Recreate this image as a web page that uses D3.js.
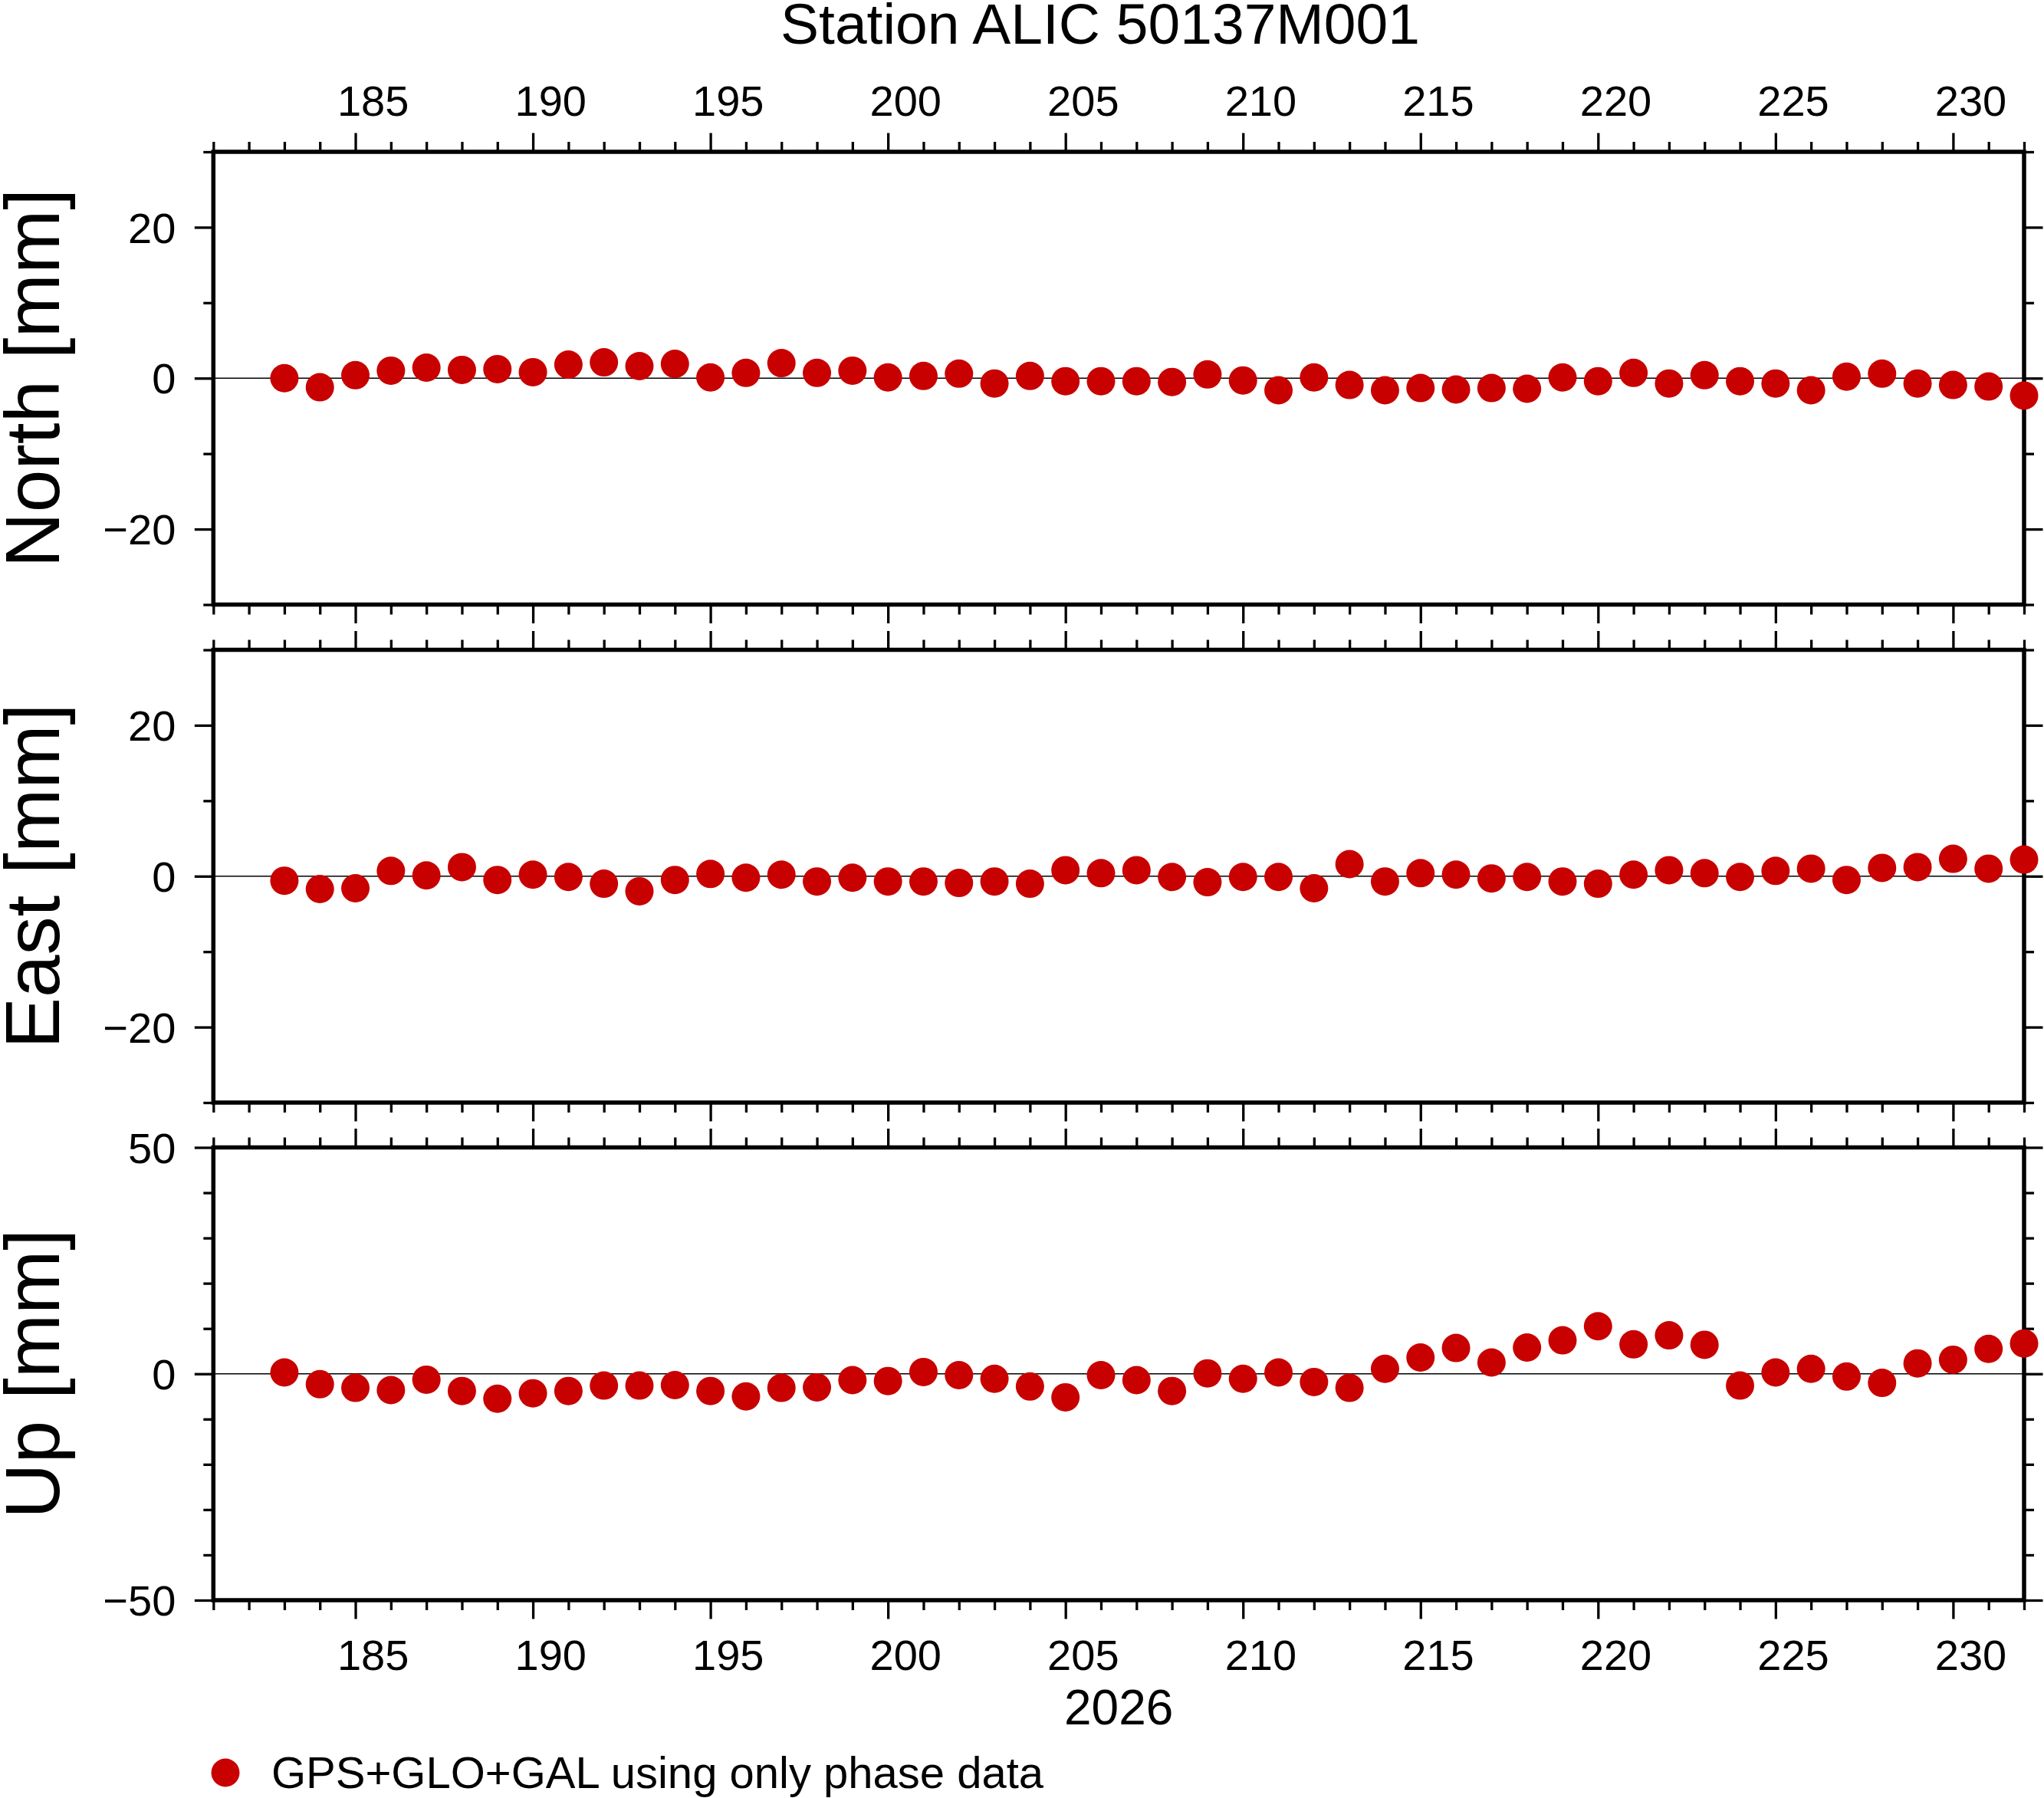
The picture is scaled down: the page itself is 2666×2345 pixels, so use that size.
<!DOCTYPE html>
<html lang="en">
<head>
  <meta charset="UTF-8">
  <title>Station ALIC 50137M001</title>
  <script src="https://d3js.org/d3.v7.min.js"></script>
  <style>
    body {
      margin: 0;
      background: #fff;
    }
    svg text {
      font-family: "Liberation Sans", Arial, Helvetica, sans-serif;
      fill: #000;
    }
  </style>
</head>
<body>
  <svg id="chart"></svg>

  <script>
    // Day of year (2026) for each daily solution
    const days = [183, 184, 185, 186, 187, 188, 189, 190, 191, 192,
                  193, 194, 195, 196, 197, 198, 199, 200, 201, 202,
                  203, 204, 205, 206, 207, 208, 209, 210, 211, 212,
                  213, 214, 215, 216, 217, 218, 219, 220, 221, 222,
                  223, 224, 225, 226, 227, 228, 229, 230, 231, 232];

    // Residuals in mm
    const north = [0.0, -1.2, 0.4, 1.0, 1.4, 1.1, 1.2, 0.8, 1.8, 2.1,
                   1.6, 1.9, 0.1, 0.7, 2.0, 0.7, 1.0, 0.1, 0.3, 0.6,
                   -0.7, 0.3, -0.4, -0.4, -0.4, -0.5, 0.5, -0.3, -1.6, 0.1,
                   -0.9, -1.6, -1.3, -1.5, -1.3, -1.4, 0.1, -0.4, 0.7, -0.7,
                   0.4, -0.4, -0.7, -1.6, 0.2, 0.6, -0.7, -0.9, -1.1, -2.3];

    const east = [-0.6, -1.7, -1.6, 0.7, 0.1, 1.2, -0.5, 0.2, -0.1, -1.0,
                  -2.0, -0.5, 0.3, -0.2, 0.2, -0.7, -0.2, -0.7, -0.7, -0.9,
                  -0.7, -1.0, 0.8, 0.4, 0.8, -0.1, -0.8, -0.1, -0.1, -1.6,
                  1.6, -0.7, 0.4, 0.2, -0.3, -0.1, -0.7, -1.0, 0.2, 0.8,
                  0.4, -0.1, 0.7, 1.0, -0.5, 1.1, 1.2, 2.3, 1.0, 2.2];

    const up = [0.3, -2.3, -3.1, -3.6, -1.3, -3.8, -5.5, -4.3, -3.8, -2.6,
                -2.6, -2.5, -3.8, -5.0, -3.1, -3.0, -1.4, -1.6, 0.4, -0.3,
                -1.1, -2.8, -5.2, -0.3, -1.4, -3.8, 0.1, -1.1, 0.3, -1.8,
                -3.1, 1.1, 3.6, 5.7, 2.5, 5.8, 7.4, 10.5, 6.5, 8.5,
                6.4, -2.6, 0.3, 1.1, -0.6, -2.0, 2.3, 3.1, 5.5, 6.7];

    // Axis ticks and labels
    const xLabelDays = [185, 190, 195, 200, 205, 210, 215, 220, 225, 230];
    const nePrimary = [-20, 0, 20];
    const neMinor = [-30, -10, 10, 30];
    const upPrimary = [-50, 0, 50];
    const upMinor = [-40, -30, -20, -10, 10, 20, 30, 40];

    const titleText = "Station ALIC 50137M001";
    const yearText = "2026";
    const legendText = "GPS+GLO+GAL using only phase data";

    const panels = [
      { label: "North [mm]", values: north, domain: [-30, 30], primary: nePrimary, minor: neMinor, top: 198 },
      { label: "East [mm]", values: east, domain: [-30, 30], primary: nePrimary, minor: neMinor, top: 847.5 },
      { label: "Up [mm]", values: up, domain: [-50, 50], primary: upPrimary, minor: upMinor, top: 1496.5 }
    ];

    const W = 2666, H = 2345;
    const panelH = 590.5;
    const red = "#c80000";
    const dotR = 18.5;
    const bigTick = 24.5, smallTick = 13;

    const svg = d3.select("#chart")
      .attr("width", W)
      .attr("height", H);

    svg.append("rect")
      .attr("width", W)
      .attr("height", H)
      .attr("fill", "#fff");

    const x = d3.scaleLinear()
      .domain([181, 232])
      .range([278.3, 2640]);

    const allDays = d3.range(181, 233);
    const [x0, x1] = x.range();

    // draw axis ticks only, no domain line, no text
    function tickAxis(g, axis) {
      g.call(axis);
      g.select(".domain").remove();
      g.selectAll("text").remove();
      g.selectAll(".tick line")
        .attr("stroke", "#000")
        .attr("stroke-width", 3.3);
    }

    const fmt = d => d < 0 ? "\u2212" + Math.abs(d) : String(d);

    panels.forEach((p, i) => {
      const y = d3.scaleLinear()
        .domain(p.domain)
        .range([p.top + panelH, p.top]);

      const g = svg.append("g").attr("class", "panel");

      // x ticks top and bottom (minor every day, major every 5)
      const majors = allDays.filter(d => d % 5 === 0);
      const minors = allDays.filter(d => d % 5 !== 0);
      [[p.top, d3.axisTop], [p.top + panelH, d3.axisBottom]].forEach(([yy, ax]) => {
        g.append("g").attr("transform", `translate(0,${yy})`)
          .call(tickAxis, ax(x).tickValues(minors).tickSize(smallTick));
        g.append("g").attr("transform", `translate(0,${yy})`)
          .call(tickAxis, ax(x).tickValues(majors).tickSize(bigTick));
      });

      // y ticks left and right
      [[x0, d3.axisLeft], [x1, d3.axisRight]].forEach(([xx, ax]) => {
        g.append("g").attr("transform", `translate(${xx},0)`)
          .call(tickAxis, ax(y).tickValues(p.minor).tickSize(smallTick));
        g.append("g").attr("transform", `translate(${xx},0)`)
          .call(tickAxis, ax(y).tickValues(p.primary).tickSize(bigTick));
      });

      // y tick labels
      g.selectAll(".ylab")
        .data(p.primary)
        .join("text")
        .attr("class", "ylab")
        .attr("x", x0 - 49)
        .attr("y", d => y(d))
        .attr("dy", "0.36em")
        .attr("text-anchor", "end")
        .attr("font-size", 56)
        .text(fmt);

      // zero line
      g.append("line")
        .attr("x1", x0).attr("x2", x1)
        .attr("y1", y(0)).attr("y2", y(0))
        .attr("stroke", "#000")
        .attr("stroke-width", 1.3);

      // frame
      g.append("rect")
        .attr("x", x0)
        .attr("y", p.top)
        .attr("width", x1 - x0)
        .attr("height", panelH)
        .attr("fill", "none")
        .attr("stroke", "#000")
        .attr("stroke-width", 5.5);

      // axis title
      g.append("text")
        .attr("transform", `translate(77,${p.top + panelH / 2}) rotate(-90)`)
        .attr("text-anchor", "middle")
        .attr("font-size", 100)
        .text(p.label);

      // data points
      g.selectAll("circle")
        .data(days.map((d, k) => ({ day: d, v: p.values[k] })))
        .join("circle")
        .attr("cx", d => x(d.day))
        .attr("cy", d => y(d.v))
        .attr("r", dotR)
        .attr("fill", red);
    });

    // day labels, centred on the day interval (top of first panel, bottom of last)
    svg.append("g").selectAll("text")
      .data(xLabelDays)
      .join("text")
      .attr("x", d => x(d + 0.5))
      .attr("y", 151)
      .attr("text-anchor", "middle")
      .attr("font-size", 56)
      .text(d => d);

    svg.append("g").selectAll("text")
      .data(xLabelDays)
      .join("text")
      .attr("x", d => x(d + 0.5))
      .attr("y", 2178)
      .attr("text-anchor", "middle")
      .attr("font-size", 56)
      .text(d => d);

    svg.append("text")
      .attr("x", (x0 + x1) / 2)
      .attr("y", 2249)
      .attr("text-anchor", "middle")
      .attr("font-size", 64)
      .text(yearText);

    // title
    svg.append("text")
      .attr("x", 1435)
      .attr("y", 57)
      .attr("text-anchor", "middle")
      .attr("font-size", 75)
      .text(titleText);

    // legend
    svg.append("circle")
      .attr("cx", 294)
      .attr("cy", 2312)
      .attr("r", dotR)
      .attr("fill", red);

    svg.append("text")
      .attr("x", 354)
      .attr("y", 2332)
      .attr("font-size", 58)
      .text(legendText);
  </script>
</body>
</html>
